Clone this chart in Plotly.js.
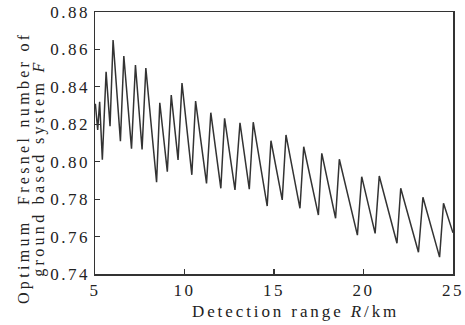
<!DOCTYPE html>
<html>
<head>
<meta charset="utf-8">
<script src="https://cdn.plot.ly/plotly-3.0.1.min.js"></script>
<style>
html, body { margin: 0; padding: 0; background: #fff; }
#chart { width: 465px; height: 325px; }
.xtick text, .ytick text { letter-spacing: 2.5px; }
.annotation-text { letter-spacing: 3.3px; }
.annotation[data-index="2"] .annotation-text { letter-spacing: 2.9px; }
</style>
</head>
<body>
<div id="chart"></div>
<script>
// Detection range R (km) at curve vertices
var rangeKm = [5.02, 5.15, 5.26, 5.41, 5.62, 5.84, 6.01, 6.42, 6.61, 7.04, 7.26, 7.63, 7.84, 8.44, 8.62,
  9.04, 9.26, 9.64, 9.86, 10.41, 10.62, 11.23, 11.47, 12.03, 12.24, 12.82, 13.10, 13.62, 13.84,
  14.62, 14.83, 15.46, 15.67, 16.45, 16.66, 17.48, 17.67, 18.44, 18.65, 19.66, 19.90, 20.65, 20.88,
  21.87, 22.08, 23.07, 23.32, 24.25, 24.47, 25.0];
// Optimum Fresnel number F
var fresnelF = [0.831, 0.817, 0.832, 0.801, 0.848, 0.819, 0.865, 0.811, 0.8565, 0.807, 0.8517, 0.8066, 0.850, 0.789, 0.8315,
  0.7947, 0.8356, 0.801, 0.842, 0.793, 0.8324, 0.7884, 0.8262, 0.7858, 0.8232, 0.7849, 0.8208, 0.7853, 0.8211,
  0.7763, 0.8112, 0.7796, 0.8143, 0.7751, 0.808, 0.7715, 0.8045, 0.7698, 0.8013, 0.7608, 0.792, 0.7617, 0.7924,
  0.7564, 0.7858, 0.7516, 0.781, 0.749, 0.7778, 0.762];
var xTicks = [5, 10, 15, 20, 25];
var yTicks = [0.74, 0.76, 0.78, 0.80, 0.82, 0.84, 0.86, 0.88];
var xTitle = 'Detection range <i>R</i>/km';
var yTitleLines = ['Optimum  Fresnel number of', 'ground based system <i>F</i>'];

var fontFam = '"Liberation Serif", "Times New Roman", serif';
var axisCommon = {
  showline: true, mirror: true, linecolor: '#333', linewidth: 1.5,
  ticks: 'inside', ticklen: 5, tickwidth: 1.2, tickcolor: '#333',
  showgrid: false, zeroline: false,
  tickfont: {family: fontFam, size: 17, color: '#222'}
};

var trace = {
  x: rangeKm, y: fresnelF, type: 'scatter', mode: 'lines',
  line: {color: '#333', width: 1.5}, hoverinfo: 'skip'
};

var layout = {
  width: 465, height: 325,
  margin: {l: 95, r: 12, t: 12, b: 51},
  paper_bgcolor: '#fff', plot_bgcolor: '#fff',
  showlegend: false,
  xaxis: Object.assign({}, axisCommon, {
    range: [5, 25], tickvals: xTicks, ticktext: xTicks.map(String)
  }),
  yaxis: Object.assign({}, axisCommon, {
    range: [0.74, 0.88], tickvals: yTicks, ticktext: yTicks.map(function(v){return v.toFixed(2);}),
    ticklabelstandoff: 0
  }),
  annotations: [
    {text: yTitleLines[0], xref: 'paper', yref: 'paper', x: -0.198, y: 0.405, xanchor: 'center', yanchor: 'middle',
     textangle: -90, showarrow: false, font: {family: fontFam, size: 16, color: '#222'}},
    {text: yTitleLines[1], xref: 'paper', yref: 'paper', x: -0.157, y: 0.405, xanchor: 'center', yanchor: 'middle',
     textangle: -90, showarrow: false, font: {family: fontFam, size: 16, color: '#222'}},
    {text: xTitle, xref: 'paper', yref: 'paper', x: 0.56, y: -0.142, xanchor: 'center', yanchor: 'middle',
     showarrow: false, font: {family: fontFam, size: 17, color: '#222'}}
  ]
};

Plotly.newPlot('chart', [trace], layout, {displayModeBar: false, staticPlot: true});
</script>
</body>
</html>
